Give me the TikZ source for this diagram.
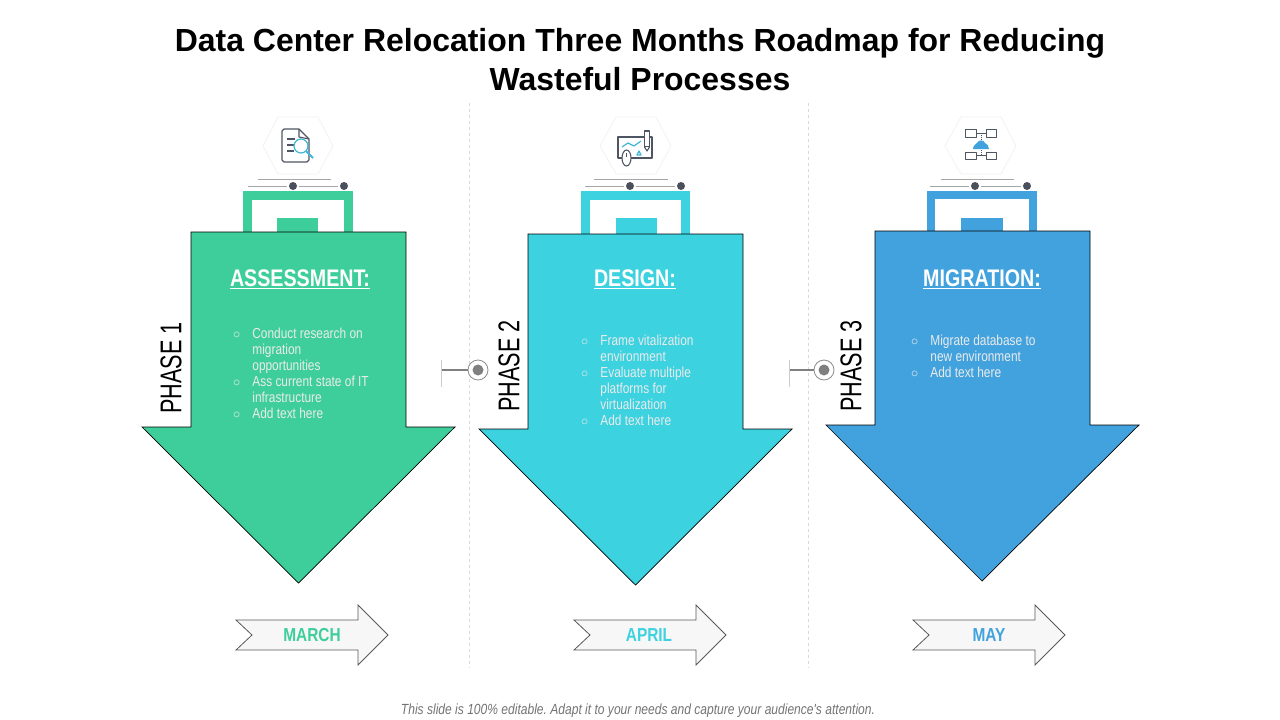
\documentclass[tikz,border=0pt]{standalone}
\usepackage{fontspec}
\setmainfont{Liberation Sans}
\newfontfamily\narrowfont[FakeStretch=0.82]{Liberation Sans}
\newfontfamily\phasefont[FakeStretch=0.72]{Liberation Sans}
\definecolor{phasegreen}{HTML}{3ECE9B}
\definecolor{phasecyan}{HTML}{3CD2E0}
\definecolor{phaseblue}{HTML}{41A2DE}
\definecolor{darkdot}{HTML}{4A4F5C}
\definecolor{iconline}{HTML}{4F5663}
\definecolor{iconaccent}{HTML}{3FB6D6}
\tikzset{
  titletext/.style={font=\fontsize{31.95}{38}\selectfont\bfseries, text=black, anchor=base},
  headtext/.style={font=\narrowfont\fontsize{24}{28}\selectfont\bfseries, text=white},
  phasetext/.style={font=\phasefont\fontsize{30}{34}\selectfont, text=black, rotate=90},
  listtext/.style={font=\narrowfont\fontsize{14.5}{16}\selectfont, text=white!92!black, align=left, anchor=north west, inner sep=0pt},
  monthtext/.style={font=\narrowfont\fontsize{18.8}{24}\selectfont\bfseries},
  foottext/.style={font=\narrowfont\fontsize{14.7}{16}\selectfont\itshape, text=black!55},
  bigarrow/.style={draw=black, line width=0.7pt},
  smallarrow/.style={draw=black!65, fill=black!3, line width=0.8pt},
  hexagon/.style={draw=black!5, line width=0.8pt},
  toplineA/.style={draw=black!35, line width=0.7pt},
  dot/.style={circle, fill=darkdot, minimum size=8pt, inner sep=0pt, outer sep=2pt},
  ring/.style={circle, draw=black!45, fill=white, line width=0.8pt, minimum size=20pt, inner sep=0pt},
  ringdot/.style={circle, fill=black!50, minimum size=11pt, inner sep=0pt},
  marker/.style={draw=black!50, line width=1.2pt},
  divider/.style={draw=black!15, line width=0.7pt, dashed},
  iconA/.style={draw=iconline, line width=1.1pt, line join=round},
  iconB/.style={draw=iconaccent, line width=1.2pt, line join=round}
}
\newcommand{\listitem}{$\circ$}
\frenchspacing
\begin{document}
\begin{tikzpicture}[x=1pt,y=-1pt]
\useasboundingbox (0,0) rectangle (1280,720);
\node [titletext] (title1) at (640,51) {Data Center Relocation Three Months Roadmap for Reducing};
\node [titletext] (title2) at (640,90) {Wasteful Processes};
% dividers
\draw [divider] (469.6,103) -- (469.6,668);
\draw [divider] (808.6,103) -- (808.6,668);
% phase 1
\draw [hexagon] (263,146) -- (278,117) -- (318,117) -- (333,146) -- (318,174) -- (278,174) -- cycle;
\draw [iconA] (299,129) -- (284,129) -- (282,131) -- (282,160) -- (284,162) -- (307,162) -- (309,160) -- (309,139) -- cycle;
\draw [iconA] (299,129) -- (299,137) -- (309,139);
\draw [iconA] (287,139) -- (295,139);
\draw [iconA] (287,145) -- (294,145);
\draw [iconA] (287,151) -- (294,151);
\draw [iconB, fill=white] (301,146) circle (7);
\draw [iconB, line width=2pt] (306,151) -- (313,158);
\draw [toplineA] (258,179) -- (331,179);
\node [dot] (dot1a) at (293,186) {};
\node [dot] (dot1b) at (344,186) {};
\coordinate (line1) at (248,186);
\draw [toplineA] (line1) -- (dot1a);
\draw [toplineA] (dot1a) -- (dot1b);
\fill [phasegreen] (243,191) rectangle (353,232);
\fill [white] (252,200) rectangle (344,232);
\fill [phasegreen] (277,218) rectangle (318,232);
\draw [bigarrow, fill=phasegreen] (191,232) -- (406,232) -- (406,427) -- (455,427) -- (298.5,583) -- (142,427) -- (191,427) -- cycle;
\node [headtext] (head1) at (300,279) {\underline{ASSESSMENT:}};
\node [phasetext] (phase1) at (171,368) {PHASE 1};
\node [listtext] (list1) at (233,327.5) {\begin{tabular}{@{}l@{\hspace{12pt}}l@{}}
\listitem & Conduct research on\\
 & migration\\
 & opportunities\\
\listitem & Ass current state of IT\\
 & infrastructure\\
\listitem & Add text here
\end{tabular}};
\draw [smallarrow] (236,620) -- (358,620) -- (358,605) -- (388,635) -- (358,665) -- (358,650) -- (236,650) -- (252,635) -- cycle;
\node [monthtext, text=phasegreen] (month1) at (312,635) {MARCH};
% marker 1
\node [ring] (ring1) at (478,370) {};
\node [ringdot] (ringdot1) at (478,370) {};
\coordinate (tick1) at (441,370);
\draw [marker] (tick1) -- (ring1);
\draw [draw=black!20, line width=0.8pt] (441,360) -- (441,387);
% phase 2
\draw [hexagon] (600,146) -- (616,117) -- (656,117) -- (671,146) -- (656,174) -- (616,174) -- cycle;
\draw [iconA] (618,137) rectangle (652,158);
\draw [iconA, fill=white] (644.5,131) rectangle (649.5,147);
\draw [iconA, fill=white] (644.5,147) -- (647,151) -- (649.5,147);
\draw [iconB] (622,147) -- (628,143) -- (634,146) -- (641,141);
\draw [iconB] (637,155) -- (639,151) -- (641,155) -- cycle;
\draw [iconA, fill=white] (626.5,158) ellipse (4.5 and 8);
\draw [iconA] (626.5,153) -- (626.5,157);
\draw [toplineA] (594,179) -- (668,179);
\node [dot] (dot2a) at (630,186) {};
\node [dot] (dot2b) at (681,186) {};
\coordinate (line2) at (585,186);
\draw [toplineA] (line2) -- (dot2a);
\draw [toplineA] (dot2a) -- (dot2b);
\fill [phasecyan] (581,191) rectangle (690,234);
\fill [white] (590,200) rectangle (681,234);
\fill [phasecyan] (616,218) rectangle (657,234);
\draw [bigarrow, fill=phasecyan] (528,234) -- (743,234) -- (743,429) -- (792,429) -- (635.5,585) -- (479,429) -- (528,429) -- cycle;
\node [headtext] (head2) at (635,279) {\underline{DESIGN:}};
\node [phasetext] (phase2) at (509,366) {PHASE 2};
\node [listtext] (list2) at (581,334.5) {\begin{tabular}{@{}l@{\hspace{12pt}}l@{}}
\listitem & Frame vitalization\\
 & environment\\
\listitem & Evaluate multiple\\
 & platforms for\\
 & virtualization\\
\listitem & Add text here
\end{tabular}};
\draw [smallarrow] (574,620) -- (696,620) -- (696,605) -- (726,635) -- (696,665) -- (696,650) -- (574,650) -- (590,635) -- cycle;
\node [monthtext, text=phasecyan] (month2) at (649,635) {APRIL};
% marker 2
\node [ring] (ring2) at (824,370) {};
\node [ringdot] (ringdot2) at (824,370) {};
\coordinate (tick2) at (789,370);
\draw [marker] (tick2) -- (ring2);
\draw [draw=black!20, line width=0.8pt] (789,360) -- (789,387);
% phase 3
\draw [hexagon] (945,146) -- (961,117) -- (1001,117) -- (1016,146) -- (1001,174) -- (961,174) -- cycle;
\draw [iconA, line width=0.9pt] (965,129) rectangle (976,137);
\draw [iconA, line width=0.9pt] (986,129) rectangle (996,137);
\draw [iconA, line width=0.9pt] (965,152) rectangle (976,159);
\draw [iconA, line width=0.9pt] (986,152) rectangle (996,159);
\draw [iconA, line width=0.9pt] (976,133) -- (986,133);
\draw [iconA, line width=0.9pt] (976,155) -- (986,155);
\draw [iconA, line width=0.9pt, densely dotted] (981,133) -- (981,155);
\fill [phaseblue] (973,149) .. controls (973,145) and (976,145) .. (977,143) .. controls (979,139) and (984,140) .. (985,143) .. controls (987,144) and (989,146) .. (989,149) -- cycle;
\draw [toplineA] (941,179) -- (1014,179);
\node [dot] (dot3a) at (975,186) {};
\node [dot] (dot3b) at (1027,186) {};
\coordinate (line3) at (930,186);
\draw [toplineA] (line3) -- (dot3a);
\draw [toplineA] (dot3a) -- (dot3b);
\fill [phaseblue] (927,191) rectangle (1037,231);
\fill [white] (935,199) rectangle (1029,231);
\fill [phaseblue] (961,218) rectangle (1003,231);
\draw [bigarrow, fill=phaseblue] (875,231) -- (1090,231) -- (1090,425) -- (1139,425) -- (982,581) -- (826,425) -- (875,425) -- cycle;
\node [headtext] (head3) at (982,279) {\underline{MIGRATION:}};
\node [phasetext] (phase3) at (851,366) {PHASE 3};
\node [listtext] (list3) at (911,334.5) {\begin{tabular}{@{}l@{\hspace{12pt}}l@{}}
\listitem & Migrate database to\\
 & new environment\\
\listitem & Add text here
\end{tabular}};
\draw [smallarrow] (913,620) -- (1035,620) -- (1035,605) -- (1065,635) -- (1035,665) -- (1035,650) -- (913,650) -- (929,635) -- cycle;
\node [monthtext, text=phaseblue] (month3) at (989,635) {MAY};
\node [foottext] (foot) at (638,710.5) {This slide is 100\% editable. Adapt it to your needs and capture your audience's attention.};
\end{tikzpicture}
\end{document}
